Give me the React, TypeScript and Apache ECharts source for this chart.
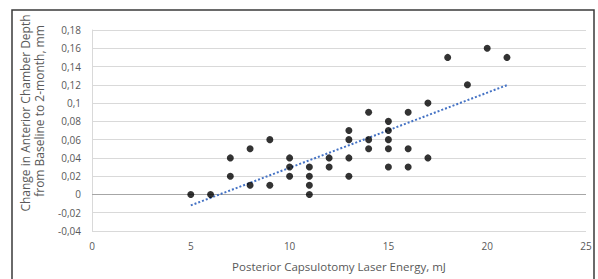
import React, { useEffect, useRef } from "react";
import * as echarts from "echarts";

// Laser energy (mJ) and change in ACD (mm)
const energy = [5, 6, 7, 7, 8, 8, 9, 9, 10, 10, 10, 11, 11, 11, 11, 12, 12, 13, 13, 13, 13, 14, 14, 14, 15, 15, 15, 15, 15, 16, 16, 16, 17, 17, 18, 19, 20, 21];
const acdChange = [0, 0, 0.04, 0.02, 0.05, 0.01, 0.06, 0.01, 0.04, 0.03, 0.02, 0.03, 0.02, 0.01, 0, 0.04, 0.03, 0.07, 0.06, 0.04, 0.02, 0.09, 0.06, 0.05, 0.08, 0.07, 0.06, 0.05, 0.03, 0.09, 0.05, 0.03, 0.1, 0.04, 0.15, 0.12, 0.16, 0.15];

const xTitle = "Posterior Capsulotomy Laser Energy, mJ";
const yTitleLines = ["Change in Anterior Chamber Depth", "from Baseline to 2-month, mm"];

function linearFit(xs: number[], ys: number[]) {
  const n = xs.length;
  const mx = xs.reduce((a, b) => a + b, 0) / n;
  const my = ys.reduce((a, b) => a + b, 0) / n;
  let sxy = 0, sxx = 0;
  for (let i = 0; i < n; i++) {
    sxy += (xs[i] - mx) * (ys[i] - my);
    sxx += (xs[i] - mx) * (xs[i] - mx);
  }
  const slope = sxy / sxx;
  return { slope, intercept: my - slope * mx };
}

const FONT = "'Open Sans', 'Noto Sans', sans-serif";

export default function App() {
  const ref = useRef<HTMLDivElement>(null);
  useEffect(() => {
    if (!ref.current) return;
    const chart = echarts.init(ref.current, undefined, { renderer: "svg" });
    const fit = linearFit(energy, acdChange);
    const xMin = Math.min(...energy);
    const xMax = Math.max(...energy);
    const trend = [
      [xMin, fit.intercept + fit.slope * xMin],
      [xMax, fit.intercept + fit.slope * xMax],
    ];
    chart.setOption({
      animation: false,
      backgroundColor: "#ffffff",
      grid: { left: 92, right: 12, top: 30, bottom: 48 },
      xAxis: {
        type: "value",
        min: 0,
        max: 25,
        interval: 5,
        axisLine: { show: false },
        axisTick: { show: false },
        splitLine: { show: false },
        axisLabel: { color: "#595959", fontSize: 10, fontFamily: FONT, margin: 10 },
      },
      yAxis: {
        type: "value",
        min: -0.04,
        max: 0.18,
        interval: 0.02,
        axisLine: { show: true, lineStyle: { color: "#d9d9d9", width: 1 } },
        axisTick: { show: false },
        splitLine: { show: true, lineStyle: { color: "#d9d9d9", width: 1 } },
        axisLabel: {
          color: "#595959",
          fontSize: 10,
          fontFamily: FONT,
          margin: 11,
          formatter: (v: number) => String(+v.toFixed(2)).replace(".", ","),
        },
      },
      graphic: [
        {
          type: "rect",
          shape: { x: 12, y: 10, width: 582, height: 290 },
          style: { fill: "none", stroke: "#3a3a3a", lineWidth: 1.5 },
          silent: true,
        },
        {
          type: "text",
          x: 339,
          y: 266,
          style: {
            text: xTitle,
            fill: "#595959",
            fontSize: 11.5,
            fontFamily: FONT,
            textAlign: "center",
            textVerticalAlign: "middle",
          },
        },
        {
          type: "text",
          x: 25,
          y: 113,
          rotation: Math.PI / 2,
          style: {
            text: yTitleLines[0],
            fill: "#595959",
            fontSize: 12,
            fontFamily: FONT,
            textAlign: "center",
            textVerticalAlign: "middle",
          },
        },
        {
          type: "text",
          x: 39.5,
          y: 111,
          rotation: Math.PI / 2,
          style: {
            text: yTitleLines[1],
            fill: "#595959",
            fontSize: 12,
            fontFamily: FONT,
            textAlign: "center",
            textVerticalAlign: "middle",
          },
        },
      ],
      series: [
        {
          type: "line",
          data: trend,
          showSymbol: false,
          symbol: "none",
          lineStyle: { color: "#4472c4", width: 2, type: [2, 2] },
          z: 2,
          markLine: {
            silent: true,
            symbol: "none",
            label: { show: false },
            lineStyle: { color: "#a6a6a6", width: 1, type: "solid" },
            data: [{ yAxis: 0 }],
            z: 1,
          },
        },
        {
          type: "scatter",
          data: energy.map((x, i) => [x, acdChange[i]]),
          symbol: "circle",
          symbolSize: 7,
          itemStyle: { color: "#000000" },
          z: 3,
        },
      ],
    });
    return () => chart.dispose();
  }, []);
  return (
    <div
      ref={ref}
      style={{ position: "absolute", left: 0, top: 0, width: 598, height: 279 }}
    />
  );
}
